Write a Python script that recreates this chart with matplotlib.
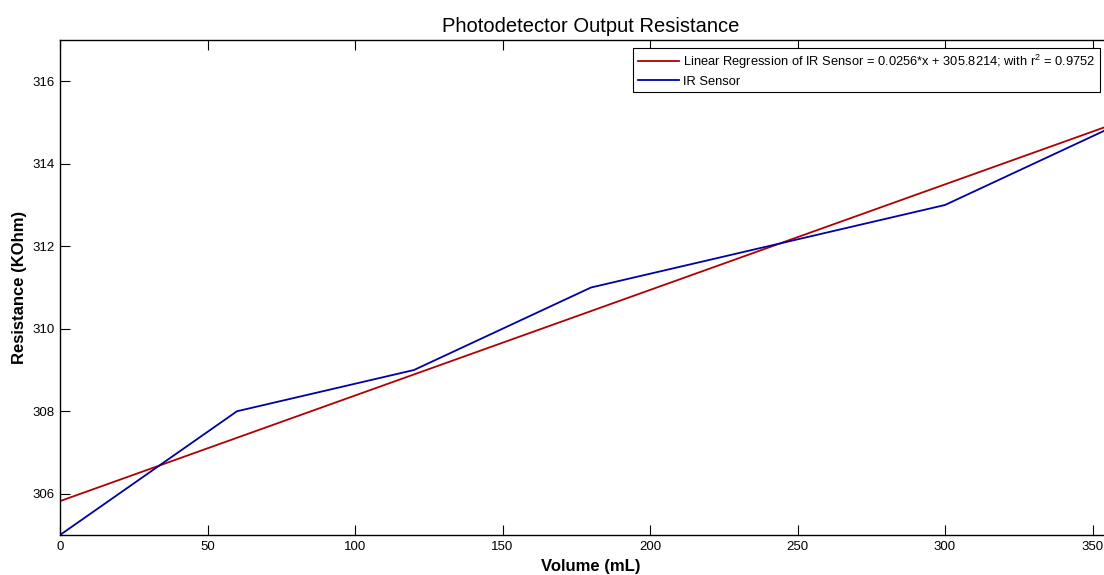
import numpy as np
import matplotlib.pyplot as plt

plt.rcParams['font.family'] = ['Liberation Sans', 'DejaVu Sans']
plt.rcParams['mathtext.fontset'] = 'custom'
plt.rcParams['mathtext.rm'] = 'Liberation Sans'
plt.rcParams['mathtext.it'] = 'Liberation Sans'

# IR sensor readings
volume = [0, 60, 120, 180, 240, 300, 360]
resistance = [305, 308, 309, 311, 312, 313, 315]

# Least squares fit
slope, intercept = np.polyfit(volume, resistance, 1)
fitted = slope * np.array(volume) + intercept
r2 = np.corrcoef(volume, resistance)[0, 1] ** 2

fig = plt.figure(figsize=(11.04, 5.75), dpi=100)
W, H = 1104, 575
# axes run past the right edge of the figure
ax = fig.add_axes([60 / W, 1 - 535 / H, (1122 - 60) / W, (535 - 40) / H])

fitLabel = 'Linear Regression of IR Sensor = %.4f*x + %.4f; with r$^2$ = %.4f' % (slope, intercept, r2)
ax.plot(volume, fitted, color='#b00000', linewidth=1.3, label=fitLabel)
ax.plot(volume, resistance, color='#0000a8', linewidth=1.3, label='IR Sensor')

ax.set_xlim(0, 360)
ax.set_ylim(305, 317)
ax.set_xticks([0, 50, 100, 150, 200, 250, 300, 350])
ax.set_yticks([306, 308, 310, 312, 314, 316])
ax.tick_params(direction='in', length=7.5, width=0.8, labelsize=9.5,
               top=True, right=True, pad=4)
for s in ax.spines.values():
    s.set_linewidth(1.0)

ax.set_title('Photodetector Output Resistance', fontsize=14.5, pad=6)
ax.set_xlabel('Volume (mL)', fontsize=12, fontweight='bold', labelpad=5)
ax.set_ylabel('Resistance (KOhm)', fontsize=12, fontweight='bold', labelpad=4)

leg = ax.legend(loc='upper left', bbox_to_anchor=(633 / W, 1 - 48 / H),
                bbox_transform=fig.transFigure, borderaxespad=0,
                fontsize=9.3, fancybox=False, framealpha=1, edgecolor='black',
                handlelength=3.2, handletextpad=0.3, labelspacing=0.4,
                borderpad=0.35)
leg.get_frame().set_linewidth(0.8)

fig.savefig('out.png', dpi=100)
